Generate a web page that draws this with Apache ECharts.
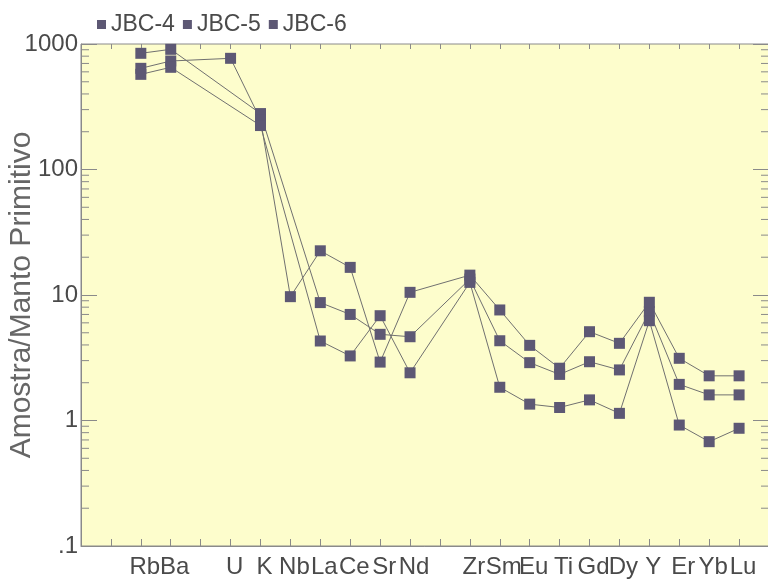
<!DOCTYPE html>
<html>
<head>
<meta charset="utf-8">
<script src="https://cdn.jsdelivr.net/npm/echarts@6/dist/echarts.min.js"></script>
<style>
  html, body { margin: 0; padding: 0; background: #ffffff; }
  #chart { width: 768px; height: 583px; }
</style>
</head>
<body>
<div id="chart"></div>
<script>
// Element slots along the x axis (blank slots keep the spacing of the spider diagram)
const axisSlots = ['', '', 'Rb', 'Ba', '', 'U', 'K', 'Nb', 'La', 'Ce', 'Sr', 'Nd', '', 'Zr',
                   'Sm', 'Eu', 'Ti', 'Gd', 'Dy', 'Y', 'Er', 'Yb', 'Lu', ''];

// Elements that carry values
const elements = ['Rb', 'Ba', 'U', 'K', 'Nb', 'La', 'Ce', 'Sr', 'Nd', 'Zr',
                  'Sm', 'Eu', 'Ti', 'Gd', 'Dy', 'Y', 'Er', 'Yb', 'Lu'];

// Sample / primitive mantle ratios
const jbc4 = [843, 907, null, 279, null, 8.7, 7.0, 4.86, 4.65, 13.4,
              4.32, 2.89, 2.33, 2.94, 2.53, 7.36, 1.94, 1.60, 1.60];
const jbc5 = [640, 732, 769, 250, 9.7, 22.5, 16.6, 2.92, 10.5, 14.4,
              7.6, 3.97, 2.61, 5.10, 4.12, 8.75, 3.13, 2.27, 2.27];
const jbc6 = [573, 652, null, 224, null, 4.3, 3.27, 6.84, 2.40, 12.6,
              1.84, 1.35, 1.27, 1.46, 1.14, 6.24, 0.92, 0.678, 0.867];

const seriesNames = ['JBC-4', 'JBC-5', 'JBC-6'];
const yTickLabels = { 0.1: '.1', 1: '1', 10: '10', 100: '100', 1000: '1000' };

const markerColor = '#5d5874';
const lineColor = '#707070';
const textColor = '#4a4a4a';
const axisColor = '#8a8a8a';
const fontFamily = 'Liberation Sans, Arial, sans-serif';

function toPoints(values) {
  return elements.map((el, i) => [axisSlots.indexOf(el), values[i]]);
}

// minor tick values for the log axis (2..9 of each decade)
const minorTicks = [];
[0.1, 1, 10, 100].forEach(d => { for (let k = 2; k <= 9; k++) minorTicks.push(+(d * k).toPrecision(3)); });

function minorTickItem(params, api) {
  const cs = params.coordSys;
  const y = api.coord([0, api.value(0)])[1];
  const len = 8;
  return {
    type: 'group',
    children: [
      { type: 'line', shape: { x1: cs.x, y1: y, x2: cs.x + len, y2: y }, style: { stroke: axisColor, lineWidth: 1 } },
      { type: 'line', shape: { x1: cs.x + cs.width, y1: y, x2: cs.x + cs.width - len, y2: y }, style: { stroke: axisColor, lineWidth: 1 } }
    ]
  };
}

const chart = echarts.init(document.getElementById('chart'), null, { renderer: 'canvas' });

const dataSets = [jbc4, jbc5, jbc6];

chart.setOption({
  backgroundColor: '#ffffff',
  animation: false,
  textStyle: { fontFamily: fontFamily },
  legend: {
    data: seriesNames,
    left: 92,
    top: 8,
    icon: 'rect',
    itemWidth: 9,
    itemHeight: 9,
    itemGap: 8,
    textStyle: { fontSize: 23, color: textColor, fontFamily: fontFamily }
  },
  grid: {
    left: 81,
    top: 44,
    width: 688,
    height: 502,
    containLabel: false,
    outerBoundsMode: 'none',
    show: true,
    backgroundColor: '#fdfdcc',
    borderColor: axisColor,
    borderWidth: 1
  },
  xAxis: [
    {
      type: 'category',
      data: axisSlots,
      boundaryGap: false,
      axisLine: { show: true, lineStyle: { color: axisColor } },
      axisTick: { show: true, inside: true, length: 7, interval: 0, lineStyle: { color: axisColor } },
      axisLabel: { interval: 0, margin: 9, fontSize: 24, color: textColor, fontFamily: fontFamily, padding: [0, 0, 0, 8] },
      splitLine: { show: false }
    },
    {
      type: 'category',
      data: axisSlots,
      boundaryGap: false,
      position: 'top',
      axisLine: { show: false },
      axisTick: { show: true, inside: true, length: 5, interval: 0, lineStyle: { color: axisColor } },
      axisLabel: { show: false },
      splitLine: { show: false }
    }
  ],
  yAxis: [
    {
      type: 'log',
      logBase: 10,
      min: 0.1,
      max: 1000,
      name: 'Amostra/Manto Primitivo',
      nameLocation: 'middle',
      nameGap: 44,
      nameMoveOverlap: false,
      nameTextStyle: { fontSize: 30, color: '#666666', fontFamily: fontFamily },
      axisLine: { show: true, lineStyle: { color: axisColor } },
      axisTick: { show: true, inside: true, length: 16, lineStyle: { color: axisColor } },
      axisLabel: {
        margin: 3,
        fontSize: 24,
        color: textColor,
        fontFamily: fontFamily,
        formatter: v => yTickLabels[+(+v).toPrecision(3)] || ''
      },
      splitLine: { show: false }
    },
    {
      type: 'log',
      logBase: 10,
      min: 0.1,
      max: 1000,
      position: 'right',
      axisLine: { show: false },
      axisTick: { show: true, inside: true, length: 16, lineStyle: { color: axisColor } },
      axisLabel: { show: false },
      splitLine: { show: false }
    }
  ],
  series: [
    {
      type: 'custom',
      name: 'minor-ticks',
      xAxisIndex: 0,
      yAxisIndex: 0,
      silent: true,
      renderItem: minorTickItem,
      encode: { y: 0 },
      data: minorTicks.map(v => [v]),
      z: 1
    }
  ].concat(dataSets.map((vals, i) => ({
    name: seriesNames[i],
    type: 'line',
    xAxisIndex: 0,
    yAxisIndex: 0,
    data: toPoints(vals),
    connectNulls: true,
    symbol: 'rect',
    symbolSize: 11,
    itemStyle: { color: markerColor },
    lineStyle: { color: lineColor, width: 1 },
    z: 3
  })))
});
</script>
</body>
</html>
